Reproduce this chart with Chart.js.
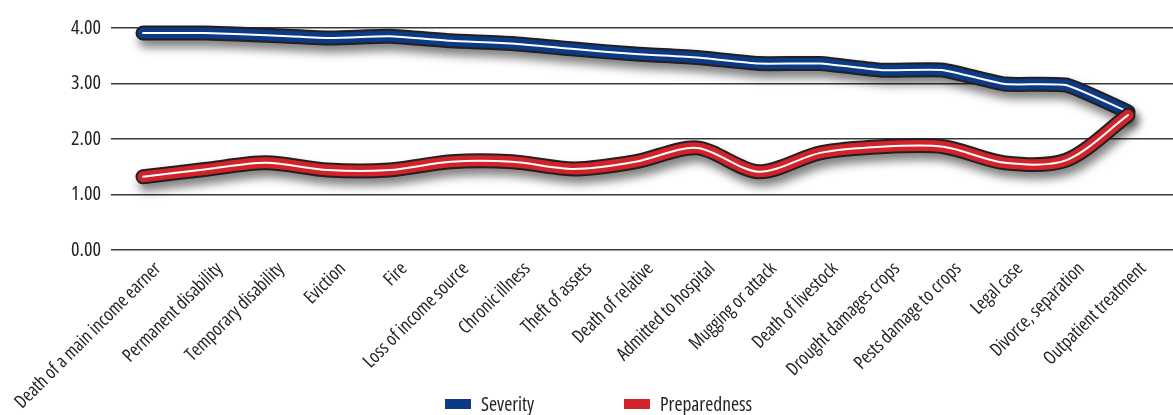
<!DOCTYPE html>
<html><head><meta charset="utf-8">
<script src="https://cdn.jsdelivr.net/npm/chart.js@4.4.0/dist/chart.umd.min.js"></script>
<style>
html,body{margin:0;padding:0;background:#fff;}
#wrap{position:relative;width:1173px;height:415px;overflow:hidden;}
canvas{position:absolute;left:0;top:0;}
.leg{position:absolute;top:393px;color:#231f20;display:flex;align-items:center;white-space:nowrap;line-height:22px;}
.leg i{display:inline-block;width:26px;height:10px;margin-right:10px;}
</style></head><body>
<div id="wrap"><canvas id="c" width="1173" height="415"></canvas></div>
<script>
const categoryLabels = ['Death of a main income earner','Permanent disability','Temporary disability','Eviction','Fire','Loss of income source','Chronic illness','Theft of assets','Death of relative','Admitted to hospital','Mugging or attack','Death of livestock','Drought damages crops','Pests damage to crops','Legal case','Divorce, separation','Outpatient treatment'];
const severity     = [3.91,3.91,3.87,3.82,3.85,3.77,3.72,3.62,3.53,3.47,3.36,3.36,3.24,3.24,2.99,2.97,2.49];
const preparedness = [1.32,1.45,1.57,1.44,1.44,1.59,1.59,1.46,1.59,1.84,1.41,1.75,1.86,1.86,1.57,1.62,2.43];
const yTicks = [0,1,2,3,4];
const seriesNames = ['Severity','Preparedness'];
const seriesColors = ['#0d3a85','#d2232a'];
const seriesValues = [severity, preparedness];

// ---- pick a condensed font that is installed ----
const mctx = document.createElement('canvas').getContext('2d');
function meas(font, text) { mctx.font = '10px serif'; mctx.font = font; return mctx.measureText(text).width; }
const probe = 'abcdefghijklmnopqrstuvwxyz0123456789';
function hasFamily(fam) {
  const a = meas('40px ' + fam + ', monospace', probe), b = meas('40px ' + fam + ', serif', probe);
  return a === b && a !== meas('40px monospace', probe);
}
let FAM = 'sans-serif', STRETCH = '';
if (hasFamily("'Liberation Sans Narrow'")) { FAM = "'Liberation Sans Narrow'"; }
else if (hasFamily("'Open Sans'") && (() => { const r = meas("condensed 40px 'Open Sans'", probe) / meas("40px 'Open Sans'", probe); return r > 0.6 && r < 0.92; })()) { FAM = "'Open Sans'"; STRETCH = 'condensed'; }
else if (hasFamily("'DejaVu Sans Condensed'")) { FAM = "'DejaVu Sans Condensed'"; }
else if (hasFamily("'DejaVu Sans'")) { FAM = "'DejaVu Sans'"; }
function fitSize(text, target) {
  return Math.round(10 * 40 * target / meas((STRETCH ? STRETCH + ' ' : '') + '40px ' + FAM, text)) / 10;
}
const xFontSize = fitSize('Permanent disability', 132);
const yFontSize = fitSize('4.00', 30);
const legFontSize = fitSize('Preparedness', 92);
const mkFont = size => ({family: FAM, size: size, weight: STRETCH || undefined});

const datasets = [];
seriesValues.forEach((vals, s) => {
  const pts = vals.map((v, i) => ({x: i, y: v}));
  const base = {data: pts, pointRadius: 0, pointHoverRadius: 0, borderCapStyle: 'round', borderJoinStyle: 'round',
                tension: s === 0 ? 0.15 : 0.3, clip: false, fill: false};
  datasets.push(Object.assign({}, base, {label: seriesNames[s] + ' outline', borderColor: '#231f20', borderWidth: 15, order: 10 - s * 3, role: 'outline'}));
  datasets.push(Object.assign({}, base, {label: seriesNames[s], borderColor: seriesColors[s], borderWidth: 11, order: 9 - s * 3}));
  datasets.push(Object.assign({}, base, {label: seriesNames[s] + ' highlight', borderColor: '#ffffff', borderWidth: 2, order: 8 - s * 3}));
});

const shadowPlugin = {
  id: 'shadow',
  beforeDatasetDraw(chart, args) {
    const ds = chart.data.datasets[args.index];
    if (ds.role === 'outline') {
      const c = chart.ctx; c.save();
      c.shadowColor = 'rgba(0,0,0,0.5)'; c.shadowBlur = 10; c.shadowOffsetX = 3; c.shadowOffsetY = 7;
      ds._sh = true;
    }
  },
  afterDatasetDraw(chart, args) {
    const ds = chart.data.datasets[args.index];
    if (ds._sh) { chart.ctx.restore(); ds._sh = false; }
  }
};

const n = categoryLabels.length;
new Chart(document.getElementById('c'), {
  type: 'line',
  data: {datasets},
  plugins: [shadowPlugin],
  options: {
    responsive: false, animation: false, devicePixelRatio: 1,
    layout: {padding: {top: 28, left: 0, right: 0, bottom: 0}},
    plugins: {legend: {display: false}, tooltip: {enabled: false}},
    scales: {
      x: {
        type: 'linear', min: -0.52, max: (n - 1) + 0.73,
        grid: {display: false}, border: {display: false},
        afterBuildTicks: s => { s.ticks = categoryLabels.map((_, i) => ({value: i})); },
        ticks: {autoSkip: false, minRotation: 45, maxRotation: 45, padding: 0, labelOffset: 15, color: '#231f20',
                font: mkFont(xFontSize), callback: v => categoryLabels[v]},
        afterFit: s => { s.height = 165; s.paddingLeft = 0; s.paddingRight = 0; }
      },
      y: {
        min: 0, max: 4,
        afterBuildTicks: s => { s.ticks = yTicks.map(v => ({value: v})); },
        grid: {color: '#3a3a3a', lineWidth: 1.5, drawTicks: false},
        border: {display: false},
        ticks: {padding: 10, color: '#231f20', font: mkFont(yFontSize), callback: v => Number(v).toFixed(2)},
        afterFit: s => { s.width = 111; s.paddingTop = 0; s.paddingBottom = 0; }
      }
    }
  }
});

const wrap = document.getElementById('wrap');
const legLeft = [445, 624];
seriesNames.forEach((name, i) => {
  const d = document.createElement('div');
  d.className = 'leg'; d.style.left = legLeft[i] + 'px';
  d.style.fontFamily = FAM; d.style.fontSize = legFontSize + 'px';
  if (STRETCH) d.style.fontStretch = STRETCH;
  const b = document.createElement('i'); b.style.background = seriesColors[i];
  d.appendChild(b); d.appendChild(document.createTextNode(name));
  wrap.appendChild(d);
});
</script>
</body></html>
